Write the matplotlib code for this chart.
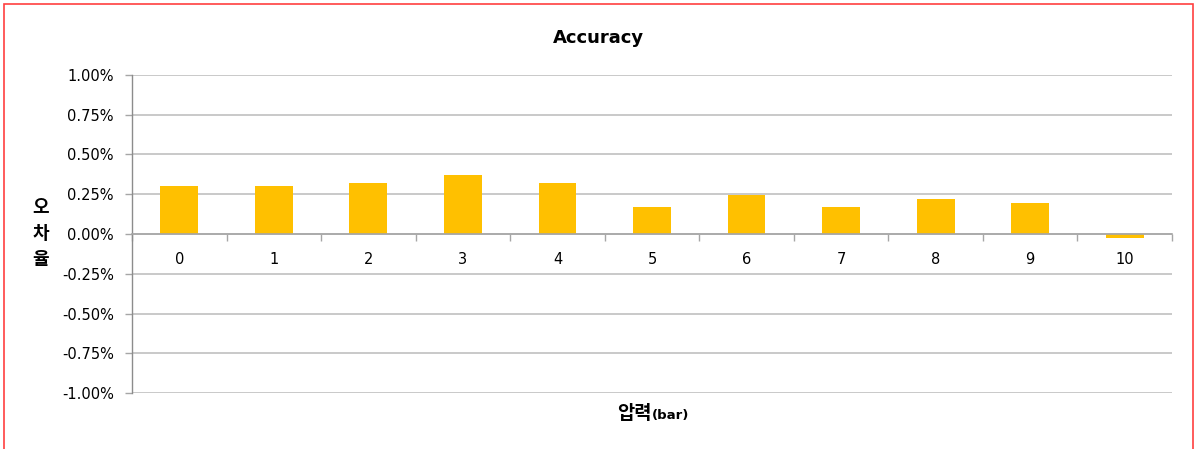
import matplotlib.pyplot as plt
from matplotlib.patches import Rectangle
from matplotlib.ticker import FuncFormatter, FixedLocator

plt.rcParams['font.family'] = ['DejaVu Sans', 'Noto Sans CJK KR']

# 압력별 오차율 (%)
pressure = ["0", "1", "2", "3", "4", "5", "6", "7", "8", "9", "10"]
error_rate = [0.30, 0.30, 0.32, 0.37, 0.32, 0.17, 0.245, 0.17, 0.22, 0.195, -0.027]
y_ticks = [-1.0, -0.75, -0.5, -0.25, 0.0, 0.25, 0.5, 0.75, 1.0]

fig = plt.figure(figsize=(11.99, 4.49), dpi=100)
ax = fig.add_axes([0.1101, 0.1247, 0.8674, 0.7083])

x = list(range(len(pressure)))
ax.bar(x, error_rate, width=0.4, color="#FFC000", zorder=3)

ax.set_xlim(-0.5, len(pressure) - 0.5)
ax.set_ylim(-1.0, 1.0)
ax.set_yticks(y_ticks)
ax.yaxis.set_major_formatter(FuncFormatter(lambda v, p: f"{v:.2f}%"))
ax.grid(axis="y", color="#c0c0c0", linewidth=1.2, zorder=0)

# 가로축은 0 위치에 두고 눈금은 항목 경계에
for s in ["top", "right"]:
    ax.spines[s].set_visible(False)
ax.spines["bottom"].set_position(("data", 0))
ax.spines["bottom"].set_color("#a6a6a6")
ax.spines["bottom"].set_linewidth(1.2)
ax.spines["bottom"].set_zorder(4)
ax.spines["left"].set_color("#8c8c8c")
ax.spines["left"].set_linewidth(1.0)

ax.set_xticks(x)
ax.set_xticklabels(pressure)
ax.xaxis.set_minor_locator(FixedLocator([i - 0.5 for i in range(len(pressure) + 1)]))
ax.tick_params(axis="x", which="major", length=0, pad=13, labelsize=10.5, colors="black")
ax.tick_params(axis="x", which="minor", length=5, width=1.0, color="#a6a6a6", direction="out")
ax.tick_params(axis="y", length=5, width=1.0, color="#a6a6a6", labelsize=10.5, pad=8)

fig.text(0.499, 0.915, "Accuracy", fontsize=13, fontweight="bold", ha="center", va="center")
fig.text(0.034, 0.479, "오\n차\n율", fontsize=13, fontweight="bold",
         ha="center", va="center", linespacing=1.6)
fig.text(0.5435, 0.080, "압력", fontsize=13.5, fontweight="bold", ha="right", va="center")
fig.text(0.5435, 0.074, "(bar)", fontsize=9.5, fontweight="bold", ha="left", va="center")

# 차트 테두리
fig.patches.append(Rectangle((0.0035, -0.05), 0.9912, 1.0405, transform=fig.transFigure,
                             fill=False, edgecolor="#ff4040", linewidth=1.2))

fig.savefig("out.png", dpi=100)
